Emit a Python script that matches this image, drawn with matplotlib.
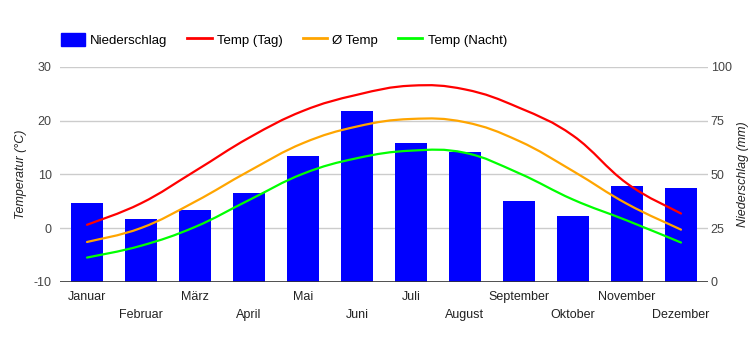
import numpy as np
import matplotlib
matplotlib.use("Agg")
import matplotlib.pyplot as plt
from matplotlib.path import Path
from matplotlib.patches import PathPatch, Patch
from matplotlib.lines import Line2D

plt.rcParams["font.family"] = ["Liberation Sans", "DejaVu Sans"]
plt.rcParams["axes.unicode_minus"] = False

# ── Data ──────────────────────────────────────────────────────────────────────
months = ["Januar", "Februar", "März", "April", "Mai", "Juni",
          "Juli", "August", "September", "Oktober", "November", "Dezember"]
niederschlag = [36.6, 29.2, 33.3, 41.3, 58.5, 79.4,
                64.5, 60.3, 37.5, 30.5, 44.5, 43.6]
temp_tag   = [0.6, 4.6, 10.6, 16.8, 21.8, 24.8, 26.5, 25.8, 22.4, 17.2, 8.3, 2.7]
temp_avg   = [-2.6, 0.0, 4.9, 10.6, 15.8, 18.9, 20.3, 19.7, 16.2, 10.6, 4.5, -0.3]
temp_nacht = [-5.5, -3.3, 0.2, 5.2, 10.1, 13.0, 14.4, 14.0, 10.2, 5.3, 1.4, -2.7]

temp_ticks = [-10, 0, 10, 20, 30]
rain_ticks = [0, 25, 50, 75, 100]


def smooth_path(xs, ys, k=0.2):
    # cubic bezier through the points (Catmull-Rom style control points)
    pts = np.column_stack([xs, ys]).astype(float)
    verts = [pts[0]]
    codes = [Path.MOVETO]
    n = len(pts)
    for i in range(n - 1):
        p0 = pts[i - 1] if i > 0 else pts[i]
        p1, p2 = pts[i], pts[i + 1]
        p3 = pts[i + 2] if i + 2 < n else pts[i + 1]
        c1 = p1 + (p2 - p0) * k
        c2 = p2 - (p3 - p1) * k
        verts += [c1, c2, p2]
        codes += [Path.CURVE4] * 3
    return Path(verts, codes)


fig = plt.figure(figsize=(7.5, 3.5), dpi=100)
ax = fig.add_axes([0.08, 0.195, 0.864, 0.614])
ax2 = ax.twinx()

x = np.arange(len(months))

# bars + grid on the precipitation axis (drawn underneath)
ax2.bar(x, niederschlag, width=0.61, color="#0000ff", zorder=2)
ax2.set_ylim(0, 100)
ax2.set_yticks(rain_ticks)
ax2.yaxis.grid(True, color="#cccccc", lw=1, zorder=0)
ax2.set_axisbelow(True)
ax2.axhline(0, color="#333333", lw=1.2, zorder=3)
ax2.set_ylabel("Niederschlag (mm)", style="italic", fontsize=9, color="#222222",
               labelpad=4)

# temperature lines on the left axis, on top
ax.set_zorder(ax2.get_zorder() + 1)
ax.patch.set_visible(False)
for vals, col in [(temp_tag, "#ff0000"), (temp_avg, "#ffa500"),
                  (temp_nacht, "#00ff00")]:
    ax.add_patch(PathPatch(smooth_path(x, vals), facecolor="none",
                           edgecolor=col, lw=1.6, capstyle="round"))
ax.set_ylim(-10, 30)
ax.set_yticks(temp_ticks)
ax.set_xlim(-0.5, len(months) - 0.5)
ax.set_ylabel("Temperatur (°C)", style="italic", fontsize=9, color="#222222",
              labelpad=5)

ax.set_xticks(x)
ax.set_xticklabels([m if i % 2 == 0 else "\n" + m for i, m in enumerate(months)],
                   linespacing=1.6)

for a in (ax, ax2):
    for s in a.spines.values():
        s.set_visible(False)
    a.tick_params(length=0, labelsize=9, colors="#444444")
ax.tick_params(axis="y", pad=6)
ax2.tick_params(axis="y", pad=2)
ax.tick_params(axis="x", pad=7, labelcolor="#222222")

handles = [Patch(color="#0000ff", label="Niederschlag"),
           Line2D([], [], color="#ff0000", lw=2, label="Temp (Tag)"),
           Line2D([], [], color="#ffa500", lw=2, label="Ø Temp"),
           Line2D([], [], color="#00ff00", lw=2, label="Temp (Nacht)")]
fig.legend(handles=handles, loc="upper left", bbox_to_anchor=(0.065, 0.94),
           ncol=4, frameon=False, fontsize=9.5, handlelength=1.85,
           handleheight=1.1, handletextpad=0.4, columnspacing=1.5)

fig.savefig("out.png", dpi=100)
